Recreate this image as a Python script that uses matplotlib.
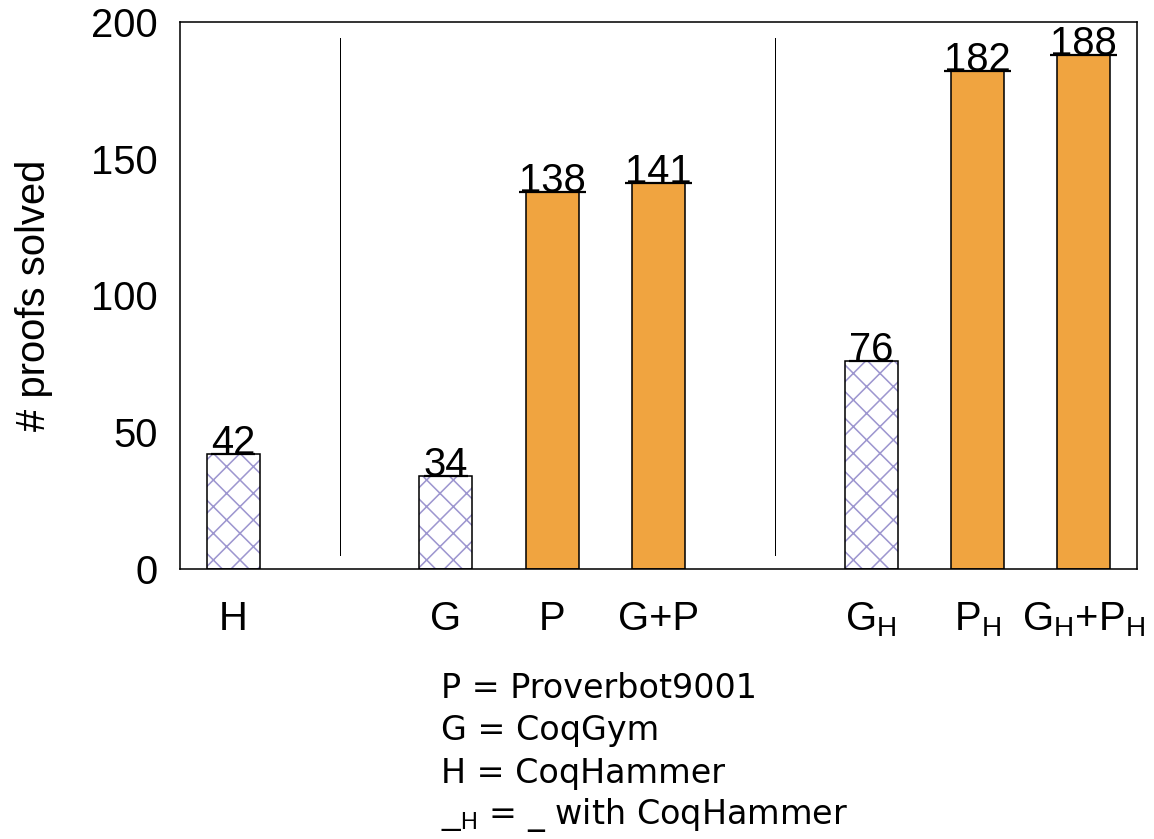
import matplotlib
matplotlib.use('Agg')
import matplotlib.pyplot as plt

# data
labels = ['H', 'G', 'P', 'G+P', r'$\mathrm{G_H}$', r'$\mathrm{P_H}$', r'$\mathrm{G_H}$+$\mathrm{P_H}$']
positions = [0.5, 2.5, 3.5, 4.5, 6.5, 7.5, 8.5]
values = [42, 34, 138, 141, 76, 182, 188]
hatched = [True, True, False, False, True, False, False]
separators = [1.5, 5.6]
legend_lines = ['P = Proverbot9001', 'G = CoqGym', 'H = CoqHammer', r'$\__\mathrm{H}$ = _ with CoqHammer']

DPI = 160
plt.rcParams['font.family'] = ['Liberation Sans', 'DejaVu Sans']
plt.rcParams['mathtext.fontset'] = 'custom'
plt.rcParams['mathtext.rm'] = 'Liberation Sans'
plt.rcParams['hatch.linewidth'] = 0.7

fig = plt.figure(figsize=(1154 / DPI, 839 / DPI), dpi=DPI)
ax = fig.add_axes([180 / 1154, (839 - 569) / 839, 957 / 1154, 547 / 839])

orange = '#f0a440'
purple = '#9d96cf'
bw = 0.5

for x, v, h in zip(positions, values, hatched):
    if h:
        ax.bar(x, v, width=bw, color='white', edgecolor=purple, hatch='xx', linewidth=0)
        ax.bar(x, v, width=bw, fill=False, edgecolor='black', linewidth=0.7)
    else:
        ax.bar(x, v, width=bw, color=orange, edgecolor='black', linewidth=0.7)
    w = len(str(v)) * 0.21
    ax.plot([x - w / 2, x + w / 2], [v, v], color='black', linewidth=1.0, solid_capstyle='butt')
    ax.text(x, v, str(v), ha='center', va='baseline', fontsize=18)

for s in separators:
    ax.plot([s, s], [5, 194], color='black', linewidth=0.45)

ax.set_xlim(0, 9)
ax.set_ylim(0, 200)
ax.set_yticks([0, 50, 100, 150, 200])
ax.set_xticks(positions)
ax.set_xticklabels(labels)
ax.tick_params(axis='both', length=0, labelsize=18)
ax.tick_params(axis='x', pad=14)
ax.tick_params(axis='y', pad=10)
ax.set_ylabel('# proofs solved', fontsize=18, labelpad=17)
for sp in ax.spines.values():
    sp.set_linewidth(0.7)

y0 = 839 - 688
for i, line in enumerate(legend_lines):
    fig.text(441 / 1154, (y0 - i * 42.5) / 839, line, fontsize=15, family='DejaVu Sans',
             va='center', ha='left')

fig.savefig('out.png', dpi=DPI)
